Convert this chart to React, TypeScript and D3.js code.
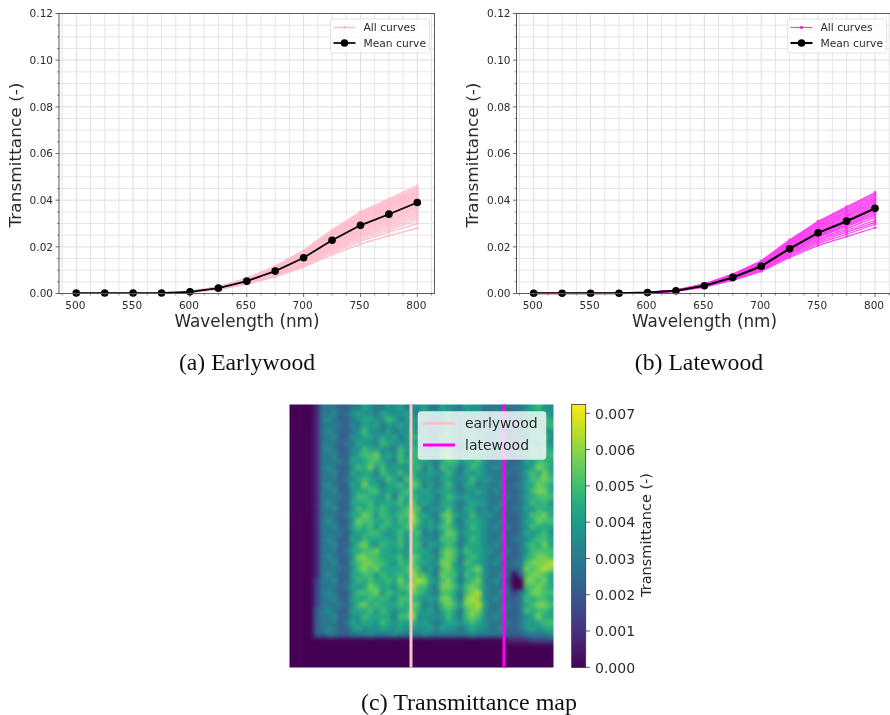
import React from "react";
import * as d3 from "d3";

const wavelengths = [500, 525, 550, 575, 600, 625, 650, 675, 700, 725, 750, 775, 800];
const xMajorTicks = [500, 550, 600, 650, 700, 750, 800];
const xMinorTicks = [487.5, 512.5, 525, 537.5, 562.5, 575, 587.5, 612.5, 625, 637.5, 662.5, 675, 687.5, 712.5, 725, 737.5, 762.5, 775, 787.5, 812.5];
const yMajorTicks = [0, 0.02, 0.04, 0.06, 0.08, 0.1, 0.12];
const yMinorTicks = [0.005, 0.01, 0.015, 0.025, 0.03, 0.035, 0.045, 0.05, 0.055, 0.065, 0.07, 0.075, 0.085, 0.09, 0.095, 0.105, 0.11, 0.115];
const cbarTicks = [0, 0.001, 0.002, 0.003, 0.004, 0.005, 0.006, 0.007];

// transmittance in units of 1e-3
const earlyMean = [0.2, 0.2, 0.2, 0.2, 0.7, 2.3, 5.3, 9.6, 15.3, 22.8, 29.2, 34.0, 39.0];
const lateMean = [0.1, 0.1, 0.1, 0.1, 0.4, 1.2, 3.3, 6.9, 11.7, 19.2, 26.0, 31.0, 36.5];
const earlyCurves = [
  [0.2, 0.2, 0.2, 0.3, 0.9, 2.9, 6.5, 11.7, 18.5, 27.3, 35.0, 40.5, 46.2],
  [0.2, 0.2, 0.2, 0.3, 0.9, 2.8, 6.4, 11.4, 18.1, 26.8, 34.4, 39.9, 45.1],
  [0.2, 0.2, 0.2, 0.3, 0.8, 2.8, 6.3, 11.2, 17.8, 26.3, 33.8, 39.2, 44.5],
  [0.2, 0.2, 0.2, 0.3, 0.8, 2.7, 6.2, 11.0, 17.5, 26.0, 33.3, 38.7, 43.9],
  [0.2, 0.2, 0.2, 0.3, 0.8, 2.7, 6.1, 10.9, 17.2, 25.7, 32.8, 38.2, 43.3],
  [0.2, 0.2, 0.2, 0.2, 0.8, 2.6, 6.0, 10.7, 17.0, 25.3, 32.4, 37.7, 42.8],
  [0.2, 0.2, 0.2, 0.2, 0.8, 2.6, 5.9, 10.5, 16.8, 24.9, 32.0, 37.2, 42.2],
  [0.2, 0.2, 0.2, 0.2, 0.8, 2.5, 5.8, 10.4, 16.5, 24.6, 31.5, 36.7, 41.6],
  [0.2, 0.2, 0.2, 0.2, 0.7, 2.5, 5.7, 10.2, 16.2, 24.2, 31.0, 36.1, 41.0],
  [0.2, 0.2, 0.2, 0.2, 0.7, 2.4, 5.6, 10.0, 16.0, 23.8, 30.5, 35.6, 40.4],
  [0.2, 0.2, 0.2, 0.2, 0.7, 2.4, 5.5, 9.9, 15.7, 23.4, 30.0, 35.0, 39.8],
  [0.2, 0.2, 0.2, 0.2, 0.7, 2.3, 5.4, 9.7, 15.4, 23.0, 29.5, 34.4, 39.2],
  [0.2, 0.2, 0.2, 0.2, 0.7, 2.3, 5.3, 9.5, 15.1, 22.6, 29.0, 33.8, 38.6],
  [0.2, 0.2, 0.2, 0.2, 0.6, 2.2, 5.2, 9.3, 14.8, 22.2, 28.5, 33.2, 38.0],
  [0.2, 0.2, 0.2, 0.2, 0.6, 2.2, 5.1, 9.2, 14.5, 21.8, 28.0, 32.6, 37.3],
  [0.2, 0.2, 0.2, 0.2, 0.6, 2.1, 5.0, 9.0, 14.2, 21.4, 27.4, 32.0, 36.6],
  [0.2, 0.2, 0.2, 0.2, 0.6, 2.1, 4.9, 8.8, 14.0, 20.9, 26.9, 31.3, 35.9],
  [0.2, 0.2, 0.2, 0.2, 0.6, 2.0, 4.8, 8.6, 13.6, 20.4, 26.3, 30.6, 35.1],
  [0.1, 0.1, 0.1, 0.2, 0.6, 2.0, 4.7, 8.4, 13.3, 19.9, 25.7, 29.9, 34.3],
  [0.1, 0.1, 0.1, 0.2, 0.5, 1.9, 4.6, 8.2, 13.0, 19.4, 25.0, 29.2, 33.5],
  [0.1, 0.1, 0.1, 0.2, 0.5, 1.9, 4.4, 8.0, 12.6, 18.9, 24.3, 28.3, 32.6],
  [0.1, 0.1, 0.1, 0.2, 0.5, 1.8, 4.3, 7.8, 12.2, 18.3, 23.4, 27.3, 31.5],
  [0.1, 0.1, 0.1, 0.2, 0.5, 1.8, 4.2, 7.5, 11.8, 17.6, 22.5, 26.3, 30.0],
  [0.1, 0.1, 0.1, 0.1, 0.5, 1.7, 4.0, 7.2, 11.3, 16.7, 21.2, 24.8, 28.0],
];
const lateCurves = [
  [0.1, 0.1, 0.1, 0.2, 0.5, 1.5, 4.1, 8.3, 14.0, 23.0, 31.0, 37.2, 43.3],
  [0.1, 0.1, 0.1, 0.2, 0.5, 1.5, 4.0, 8.2, 13.8, 22.6, 30.6, 36.7, 42.7],
  [0.1, 0.1, 0.1, 0.2, 0.5, 1.4, 3.9, 8.1, 13.6, 22.3, 30.2, 36.2, 42.1],
  [0.1, 0.1, 0.1, 0.2, 0.5, 1.4, 3.9, 8.0, 13.4, 22.0, 29.8, 35.7, 41.5],
  [0.1, 0.1, 0.1, 0.2, 0.5, 1.4, 3.8, 7.9, 13.2, 21.6, 29.4, 35.1, 41.0],
  [0.1, 0.1, 0.1, 0.1, 0.5, 1.3, 3.8, 7.8, 13.0, 21.3, 29.0, 34.6, 40.4],
  [0.1, 0.1, 0.1, 0.1, 0.5, 1.3, 3.7, 7.6, 12.8, 21.0, 28.5, 34.1, 39.9],
  [0.1, 0.1, 0.1, 0.1, 0.4, 1.3, 3.7, 7.5, 12.6, 20.7, 28.1, 33.6, 39.3],
  [0.1, 0.1, 0.1, 0.1, 0.4, 1.3, 3.6, 7.4, 12.4, 20.4, 27.7, 33.1, 38.8],
  [0.1, 0.1, 0.1, 0.1, 0.4, 1.2, 3.5, 7.3, 12.2, 20.1, 27.2, 32.6, 38.2],
  [0.1, 0.1, 0.1, 0.1, 0.4, 1.2, 3.5, 7.2, 12.0, 19.8, 26.8, 32.0, 37.6],
  [0.1, 0.1, 0.1, 0.1, 0.4, 1.2, 3.4, 7.0, 11.8, 19.4, 26.4, 31.5, 37.0],
  [0.1, 0.1, 0.1, 0.1, 0.4, 1.2, 3.4, 6.9, 11.6, 19.1, 26.0, 31.0, 36.4],
  [0.1, 0.1, 0.1, 0.1, 0.4, 1.1, 3.3, 6.8, 11.4, 18.8, 25.6, 30.5, 35.9],
  [0.1, 0.1, 0.1, 0.1, 0.4, 1.1, 3.3, 6.7, 11.3, 18.5, 25.1, 30.0, 35.3],
  [0.1, 0.1, 0.1, 0.1, 0.4, 1.1, 3.2, 6.6, 11.1, 18.2, 24.8, 29.6, 34.8],
  [0.1, 0.1, 0.1, 0.1, 0.3, 1.1, 3.2, 6.5, 10.9, 17.9, 24.4, 29.1, 34.2],
  [0.1, 0.1, 0.1, 0.1, 0.3, 1.0, 3.1, 6.4, 10.7, 17.6, 24.0, 28.6, 33.6],
  [0.1, 0.1, 0.1, 0.1, 0.3, 1.0, 3.0, 6.2, 10.5, 17.2, 23.3, 27.8, 32.6],
  [0.1, 0.1, 0.1, 0.1, 0.3, 1.0, 2.9, 6.1, 10.3, 16.8, 22.8, 27.0, 31.4],
  [0.1, 0.1, 0.1, 0.1, 0.3, 1.0, 2.9, 6.0, 10.1, 16.5, 22.2, 26.3, 30.5],
  [0.1, 0.1, 0.1, 0.1, 0.3, 0.9, 2.8, 5.8, 9.8, 16.0, 21.5, 25.4, 29.7],
  [0.1, 0.1, 0.1, 0.1, 0.3, 0.9, 2.7, 5.6, 9.5, 15.4, 20.6, 24.4, 28.2],
];

// heat-map cells, 44 x 44, each digit is a level of mapLevel
const mapRows = [
  "00001 444 33 4465445564 5 564 4 655 4 6554 444 444 56755",
  "00001 445 34 5655465556 5 465 5 564 5 5564 454 345 65665",
  "00001 454 33 4566557645 6 564 4 575 4 6545 445 444 56576",
  "00001 444 43 5465645565 6 455 5 665 4 5755 554 434 65667",
  "00001 454 33 4575546455 6 564 4 575 4 6645 445 344 57655",
  "00001 445 33 5566565645 7 655 4 766 5 5765 454 344 46675",
  "00001 444 34 4655476555 6 564 5 565 4 6565 544 434 56565",
  "00001 454 33 5576655475 7 645 4 675 4 5765 445 344 67676",
  "00001 445 33 5677856575 6 756 5 786 4 7665 554 344 57667",
  "00001 444 43 6567765476 7 665 4 677 5 6675 445 334 65776",
  "00001 454 33 5768575655 6 746 4 766 4 5765 454 344 56876",
  "00001 445 33 6566476575 7 556 5 575 4 6565 444 434 67686",
  "00001 444 34 5676557647 7 655 4 665 5 5755 544 334 57787",
  "00001 454 33 6586646675 8 746 4 575 4 6645 445 344 66876",
  "00001 445 33 5667756567 7 565 5 665 4 5565 454 334 57886",
  "00001 444 43 5776657476 7 656 4 576 5 6555 444 434 66777",
  "00001 454 33 6667566675 8 565 4 665 4 5665 445 334 57675",
  "00001 445 33 5767676567 8 745 5 575 4 6645 454 344 65766",
  "00001 444 34 6687576677 9 665 4 786 5 5755 544 334 57786",
  "00001 454 33 5877667576 9 756 4 685 4 6665 445 334 66877",
  "00001 445 33 6767576667 8 656 5 776 4 5765 454 434 57666",
  "00001 444 43 5667765675 7 745 4 687 5 6665 444 334 65675",
  "00001 454 33 6576666575 7 655 4 777 4 5765 445 344 56776",
  "00001 445 33 5786576675 7 746 5 676 4 6665 454 334 67686",
  "00001 444 34 6677866565 7 665 4 787 5 7665 544 434 57777",
  "00001 454 33 5887766675 8 756 4 787 4 6765 445 334 67887",
  "00001 445 33 6788776576 8 665 5 886 4 7665 454 344 78889",
  "00001 444 43 5787866667 8 746 4 786 5 6785 444 334 87898",
  "00001 454 33 6677576676 9 775 4 877 4 7675 445 303 78876",
  "00002 445 33 5767667686 8 986 5 786 4 6785 454 200 88786",
  "00002 444 34 6568766577 9 775 4 887 5 7875 444 300 77876",
  "00002 454 33 5777857666 8 765 4 776 4 7895 445 324 68877",
  "00002 445 33 6667676577 7 656 5 886 4 8985 454 334 76776",
  "00002 444 43 5786766676 8 745 4 787 5 8896 444 434 67887",
  "00003 454 33 6667576566 8 656 4 676 4 7885 445 334 76776",
  "00003 445 33 5576666477 9 555 5 575 4 7875 454 334 56866",
  "00003 444 34 6566576565 7 565 4 566 5 6765 444 434 65677",
  "00003 454 33 5655565565 6 556 4 655 4 5655 445 334 56566",
  "00003 344 33 4445444544 4 454 4 444 4 4544 444 333 44445",
  "00000 000 00 0000000000 0 000 0 000 0 0000 000 111 12222",
  "00000 000 00 0000000000 0 000 0 000 0 0000 000 000 00000",
  "00000 000 00 0000000000 0 000 0 000 0 0000 000 000 00000",
  "00000 000 00 0000000000 0 000 0 000 0 0000 000 000 00000",
  "00000 000 00 0000000000 0 000 0 000 0 0000 000 000 00000",
];
const mapLevel = 0.00072;

const SANS = "'DejaVu Sans', sans-serif";
const SERIF = "'Liberation Serif', serif";
const TXT = "#2a2a2a";

const mapCells = mapRows.map((r) => r.replace(/ /g, "").split("").map(Number));
const color = d3.scaleSequential(d3.interpolateViridis).domain([0, 0.00724]);

function Panel({ left, x0, x1, curves, mean, curveColor, curveWidth, curveOpacity, meanWidth, legendX, ylabelX }: any) {
  const top = 13.5;
  const bottom = 293.5;
  const right = left + 375.5;
  const x = d3.scaleLinear().domain([500, 800]).range([x0, x1]);
  const y = d3.scaleLinear().domain([0, 0.12]).range([bottom, top]);
  const line = d3
    .line<number>()
    .x((_, i) => x(wavelengths[i]))
    .y((d) => y(d / 1000));
  return (
    <g>
      {xMinorTicks.map((t) => (
        <line key={t} x1={x(t)} x2={x(t)} y1={top} y2={bottom} stroke="#e4e4ea" strokeWidth={1} />
      ))}
      {yMinorTicks.map((t) => (
        <line key={t} x1={left} x2={right} y1={y(t)} y2={y(t)} stroke="#e4e4ea" strokeWidth={1} />
      ))}
      {xMajorTicks.map((t) => (
        <line key={t} x1={x(t)} x2={x(t)} y1={top} y2={bottom} stroke="#dcdce2" strokeWidth={1} />
      ))}
      {yMajorTicks.map((t) => (
        <line key={t} x1={left} x2={right} y1={y(t)} y2={y(t)} stroke="#dcdce2" strokeWidth={1} />
      ))}
      <g opacity={curveOpacity}>
        {curves.map((c: number[], i: number) => (
          <g key={i}>
            <path d={line(c) as string} fill="none" stroke={curveColor} strokeWidth={curveWidth} />
            {c.map((v, j) => (
              <circle key={j} cx={x(wavelengths[j])} cy={y(v / 1000)} r={1.4} fill={curveColor} />
            ))}
          </g>
        ))}
      </g>
      <path d={line(mean) as string} fill="none" stroke="#000" strokeWidth={meanWidth} />
      {mean.map((v: number, j: number) => (
        <circle key={j} cx={x(wavelengths[j])} cy={y(v / 1000)} r={3.8} fill="#000" />
      ))}
      <rect x={left} y={top} width={right - left} height={bottom - top} fill="none" stroke="#5c5c5c" strokeWidth={1} />
      {xMajorTicks.map((t) => (
        <g key={t}>
          <line x1={x(t)} x2={x(t)} y1={bottom} y2={bottom + 3.5} stroke="#444" strokeWidth={0.8} />
          <text x={x(t) - 1} y={309} textAnchor="middle" fontFamily={SANS} fontSize={10.5} fill={TXT}>
            {t}
          </text>
        </g>
      ))}
      {xMinorTicks.map((t) => (
        <line key={t} x1={x(t)} x2={x(t)} y1={bottom} y2={bottom + 2} stroke="#444" strokeWidth={0.6} />
      ))}
      {yMajorTicks.map((t) => (
        <g key={t}>
          <line x1={left - 3.5} x2={left} y1={y(t)} y2={y(t)} stroke="#444" strokeWidth={0.8} />
          <text x={left - 6} y={y(t) + 3.8} textAnchor="end" fontFamily={SANS} fontSize={10.5} fill={TXT}>
            {t.toFixed(2)}
          </text>
        </g>
      ))}
      {yMinorTicks.map((t) => (
        <line key={t} x1={left - 2} x2={left} y1={y(t)} y2={y(t)} stroke="#444" strokeWidth={0.6} />
      ))}
      <text x={left + 188} y={327} textAnchor="middle" fontFamily={SANS} fontSize={16.8} fill={TXT}>
        Wavelength (nm)
      </text>
      <text
        transform={`translate(${ylabelX},155) rotate(-90)`}
        textAnchor="middle"
        fontFamily={SANS}
        fontSize={16.5}
        textLength={145}
        lengthAdjust="spacingAndGlyphs"
        fill={TXT}
      >
        Transmittance (-)
      </text>
      <rect x={legendX} y={19} width={99} height={34} rx={2} fill="#fff" fillOpacity={0.8} stroke="#dcdcdc" strokeWidth={0.8} />
      <line x1={legendX + 3} x2={legendX + 25} y1={27.5} y2={27.5} stroke={curveColor} strokeWidth={curveWidth} opacity={curveOpacity} />
      <circle cx={legendX + 14} cy={27.5} r={1.4} fill={curveColor} />
      <text x={legendX + 33} y={31} fontFamily={SANS} fontSize={10.7} fill={TXT}>
        All curves
      </text>
      <line x1={legendX + 3} x2={legendX + 25} y1={43} y2={43} stroke="#000" strokeWidth={meanWidth} />
      <circle cx={legendX + 14} cy={43} r={3.8} fill="#000" />
      <text x={legendX + 33} y={47} fontFamily={SANS} fontSize={10.7} fill={TXT}>
        Mean curve
      </text>
    </g>
  );
}

function MapPanel() {
  const left = 289.5;
  const right = 553.5;
  const top = 404.5;
  const bottom = 667.5;
  const n = mapCells.length;
  const xs = d3.scaleLinear().domain([0, n]).range([left, right]);
  const ys = d3.scaleLinear().domain([0, n]).range([top, bottom]);
  const idx = d3.range(-2, n + 2);
  const clamp = (i: number) => Math.max(0, Math.min(n - 1, i));
  const cb = d3.scaleLinear().domain([0, 0.007]).range([667.3, 413.3]);
  const stops = d3.range(0, 1.001, 0.05);
  return (
    <g>
      <defs>
        <clipPath id="mapClip">
          <rect x={left} y={top} width={right - left} height={bottom - top} />
        </clipPath>
        <filter id="mapBlur" x="-5%" y="-5%" width="110%" height="110%" colorInterpolationFilters="sRGB">
          <feGaussianBlur stdDeviation={2} />
        </filter>
        <linearGradient id="cbGrad" x1="0" x2="0" y1="1" y2="0">
          {stops.map((s) => (
            <stop key={s} offset={s} stopColor={d3.interpolateViridis(s)} />
          ))}
        </linearGradient>
      </defs>
      <g clipPath="url(#mapClip)">
        <g filter="url(#mapBlur)">
          {idx.map((r) =>
            idx.map((c) => (
              <rect
                key={`${r}-${c}`}
                x={xs(c)}
                y={ys(r)}
                width={xs(1) - xs(0) + 0.5}
                height={ys(1) - ys(0) + 0.5}
                fill={color(mapCells[clamp(r)][clamp(c)] * mapLevel)}
              />
            ))
          )}
        </g>
      </g>
      <line x1={411} x2={411} y1={top} y2={bottom} stroke="#f6c6c4" strokeWidth={3} />
      <line x1={504} x2={504} y1={top} y2={bottom} stroke="#ff00f0" strokeWidth={3} />
      <rect x={418} y={411.5} width={128} height={48} rx={3} fill="#fff" fillOpacity={0.8} stroke="#ddd" strokeWidth={0.6} />
      <line x1={423} x2={455} y1={423.3} y2={423.3} stroke="#ffc0cb" strokeWidth={3} />
      <line x1={423} x2={455} y1={445} y2={445} stroke="#ff00ff" strokeWidth={3} />
      <text x={465} y={428} fontFamily={SANS} fontSize={14} fill={TXT}>
        earlywood
      </text>
      <text x={465} y={449.5} fontFamily={SANS} fontSize={14} fill={TXT}>
        latewood
      </text>
      <rect x={571.7} y={404.5} width={14} height={263} fill="url(#cbGrad)" stroke="#333" strokeWidth={0.8} />
      {cbarTicks.map((t) => (
        <g key={t}>
          <line x1={585.7} x2={590} y1={cb(t)} y2={cb(t)} stroke="#333" strokeWidth={0.8} />
          <text x={595} y={cb(t) + 5.2} fontFamily={SANS} fontSize={14} fill={TXT}>
            {t.toFixed(3)}
          </text>
        </g>
      ))}
      <text transform="translate(651,535) rotate(-90)" textAnchor="middle" fontFamily={SANS} fontSize={14.5} fill={TXT}>
        Transmittance (-)
      </text>
    </g>
  );
}

export default function App() {
  return (
    <svg width={890} height={715} style={{ position: "absolute", left: 0, top: 0, display: "block", background: "#fff" }}>
      <g style={{ filter: "blur(0.35px)" }}>
        <Panel
          left={59}
          x0={76.3}
          x1={417.3}
          curves={earlyCurves}
          mean={earlyMean}
          curveColor="#ffb6c6"
          curveWidth={1.5}
          curveOpacity={0.85}
          meanWidth={1.7}
          legendX={330.5}
          ylabelX={21}
        />
        <Panel
          left={516.5}
          x0={533.7}
          x1={875}
          curves={lateCurves}
          mean={lateMean}
          curveColor="#ff00ee"
          curveWidth={1.2}
          curveOpacity={0.75}
          meanWidth={2.1}
          legendX={787.5}
          ylabelX={478}
        />
        <MapPanel />
      </g>
      <text x={247} y={370} textAnchor="middle" fontFamily={SERIF} fontSize={23.7} fill="#111">
        (a) Earlywood
      </text>
      <text x={699} y={370} textAnchor="middle" fontFamily={SERIF} fontSize={23.7} fill="#111">
        (b) Latewood
      </text>
      <text x={469} y={710} textAnchor="middle" fontFamily={SERIF} fontSize={24} fill="#111">
        (c) Transmittance map
      </text>
    </svg>
  );
}
